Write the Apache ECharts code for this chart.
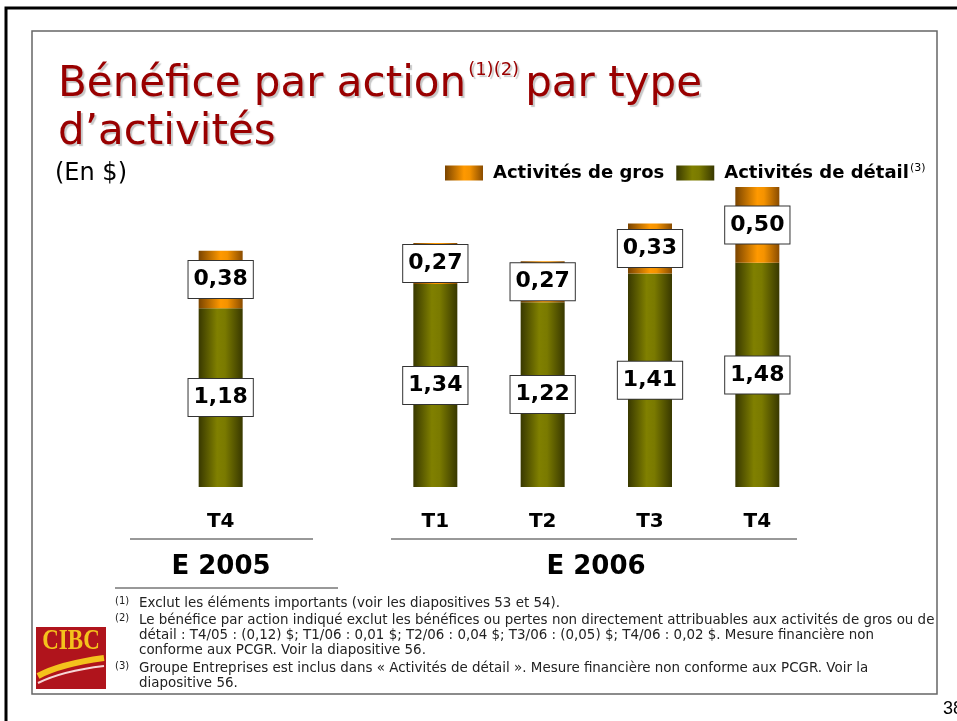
<!DOCTYPE html>
<html>
<head>
<meta charset="utf-8">
<script src="https://cdn.jsdelivr.net/npm/echarts@6/dist/echarts.min.js"></script>
<style>
html,body{margin:0;padding:0;background:#fff;}
#c{width:957px;height:721px;}
</style>
</head>
<body>
<div id="c"></div>
<script>
// ---- data ----
const categories = ['T4', '', 'T1', 'T2', 'T3', 'T4'];
const retail = [1.18, null, 1.34, 1.22, 1.41, 1.48];       // Activités de détail
const wholesale = [0.38, null, 0.27, 0.27, 0.33, 0.50];    // Activités de gros
const yearLabels = ['E 2005', 'E 2006'];
const seriesNames = ['Activités de gros', 'Activités de détail'];
const footnotes = [
  ['(1)', 'Exclut les éléments importants (voir les diapositives 53 et 54).'],
  ['(2)', 'Le bénéfice par action indiqué exclut les bénéfices ou pertes non directement attribuables aux activités de gros ou de'],
  ['', 'détail : T4/05 : (0,12) $; T1/06 : 0,01 $; T2/06 : 0,04 $; T3/06 : (0,05) $; T4/06 : 0,02 $. Mesure financière non'],
  ['', 'conforme aux PCGR. Voir la diapositive 56.'],
  ['(3)', 'Groupe Entreprises est inclus dans « Activités de détail ». Mesure financière non conforme aux PCGR. Voir la'],
  ['', 'diapositive 56.']
];

const chart = echarts.init(document.getElementById('c'), null, {renderer: 'canvas'});
const ctx = document.createElement('canvas').getContext('2d');
function tw(t, f) { ctx.font = f; return ctx.measureText(t).width; }

const greenGrad = {type: 'linear', x: 0, y: 0, x2: 1, y2: 0, colorStops: [
  {offset: 0, color: '#383800'}, {offset: 0.42, color: '#808000'}, {offset: 0.6, color: '#7a7a00'}, {offset: 1, color: '#383800'}]};
const orangeGrad = {type: 'linear', x: 0, y: 0, x2: 1, y2: 0, colorStops: [
  {offset: 0, color: '#7a4400'}, {offset: 0.5, color: '#ff9900'}, {offset: 0.65, color: '#f59300'}, {offset: 1, color: '#8a4c00'}]};

const labelCfg = {
  show: true, position: 'inside',
  formatter: p => (p.value == null ? '' : p.value.toFixed(2).replace('.', ',')),
  backgroundColor: '#fff', borderColor: '#333', borderWidth: 1,
  padding: [7, 5, 6, 5], fontSize: 22, fontWeight: 'bold', fontFamily: 'DejaVu Sans', color: '#000', lineHeight: 24
};

const gfx = [];
// outer frame
gfx.push({type: 'rect', shape: {x: 6, y: 8, width: 980, height: 760}, style: {fill: 'none', stroke: '#000', lineWidth: 3}, z: 1});
// inner frame
gfx.push({type: 'rect', shape: {x: 32, y: 31, width: 905, height: 663}, style: {fill: 'none', stroke: '#666', lineWidth: 1.5}, z: 1});

// title
const tFont = 'normal 42px "DejaVu Sans"';
const t1 = 'Bénéfice par action';
const sup = '(1)(2)';
const supFont = 'normal 18px "DejaVu Sans"';
const t1w = tw(t1, tFont);
const supw = tw(sup, supFont);
const titleColor = '#990000';
const shadow = {textShadowColor: 'rgba(0,0,0,0.22)', textShadowOffsetX: 2, textShadowOffsetY: 2, textShadowBlur: 1};
gfx.push({type: 'text', x: 58, y: 85, style: Object.assign({text: t1, font: tFont, fill: titleColor, textVerticalAlign: 'middle'}, shadow), z: 5});
gfx.push({type: 'text', x: 58 + t1w + 2, y: 70, style: Object.assign({text: sup, font: supFont, fill: titleColor, textVerticalAlign: 'middle'}, shadow), z: 5});
gfx.push({type: 'text', x: 58 + t1w + supw + 8, y: 85, style: Object.assign({text: 'par type', font: tFont, fill: titleColor, textVerticalAlign: 'middle'}, shadow), z: 5});
gfx.push({type: 'text', x: 58, y: 133, style: Object.assign({text: 'd\u2019activités', font: tFont, fill: titleColor, textVerticalAlign: 'middle'}, shadow), z: 5});
gfx.push({type: 'text', x: 55, y: 174, style: {text: '(En $)', font: 'normal 24px "DejaVu Sans"', fill: '#000', textVerticalAlign: 'middle'}, z: 5});

// axis group lines and year labels
gfx.push({type: 'line', shape: {x1: 130, y1: 539, x2: 313, y2: 539}, style: {stroke: '#333', lineWidth: 1}});
gfx.push({type: 'line', shape: {x1: 391, y1: 539, x2: 797, y2: 539}, style: {stroke: '#333', lineWidth: 1}});
gfx.push({type: 'line', shape: {x1: 115, y1: 588, x2: 338, y2: 588}, style: {stroke: '#333', lineWidth: 1}});
gfx.push({type: 'text', x: 221, y: 567, style: {text: yearLabels[0], font: 'bold 26px "DejaVu Sans"', fill: '#000', textAlign: 'center', textVerticalAlign: 'middle'}});
gfx.push({type: 'text', x: 596, y: 567, style: {text: yearLabels[1], font: 'bold 26px "DejaVu Sans"', fill: '#000', textAlign: 'center', textVerticalAlign: 'middle'}});

// footnotes (font size fitted so the longest line spans the box)
const fy = [604, 621, 636, 651, 669, 684];
const fs = 13 * 796 / tw(footnotes[1][1], 'normal 13px "DejaVu Sans"');
footnotes.forEach((f, i) => {
  if (f[0]) gfx.push({type: 'text', x: 115, y: fy[i] - 3, style: {text: f[0], font: 'normal 10px "DejaVu Sans"', fill: '#222', textVerticalAlign: 'middle'}});
  gfx.push({type: 'text', x: 139, y: fy[i], style: {text: f[1], font: 'normal ' + fs.toFixed(2) + 'px "DejaVu Sans"', fill: '#222', textVerticalAlign: 'middle'}});
});

// CIBC logo
gfx.push({type: 'rect', shape: {x: 36, y: 627, width: 70, height: 62}, style: {fill: '#b0141c'}});
gfx.push({type: 'text', x: 71, y: 641, scaleY: 1.3, style: {text: 'CIBC', font: 'bold 23px "Liberation Serif"', fill: '#f4c21c', textAlign: 'center', textVerticalAlign: 'middle'}});
gfx.push({type: 'bezierCurve', shape: {x1: 38, y1: 676, cpx1: 60, cpy1: 664, x2: 104, y2: 658}, style: {stroke: '#f4c21c', lineWidth: 6, fill: 'none'}});
gfx.push({type: 'bezierCurve', shape: {x1: 38, y1: 683, cpx1: 62, cpy1: 671, x2: 104, y2: 666}, style: {stroke: '#f6d6d6', lineWidth: 2, fill: 'none'}});

// page number
gfx.push({type: 'text', x: 943, y: 709, style: {text: '38', font: 'normal 18px "Liberation Sans"', fill: '#000', textVerticalAlign: 'middle'}});

const option = {
  backgroundColor: '#fff',
  animation: false,
  legend: {
    left: 445, top: 163, padding: 0,
    itemWidth: 38, itemHeight: 15, itemGap: 12,
    icon: 'rect',
    data: [seriesNames[0], seriesNames[1]],
    formatter: n => n === seriesNames[1] ? '{n|' + n + '}{s|(3)}' : '{n|' + n + '}',
    textStyle: {
      rich: {
        n: {fontSize: 18, fontWeight: 'bold', fontFamily: 'DejaVu Sans', color: '#000', lineHeight: 20, padding: [0, 0, 0, 5]},
        s: {fontSize: 11, fontFamily: 'DejaVu Sans', color: '#000', lineHeight: 20, verticalAlign: 'top', padding: [0, 0, 12, 1]}
      }
    }
  },
  grid: {left: 167, width: 644, top: 184, height: 303, containLabel: false},
  xAxis: {
    type: 'category', data: categories,
    axisLine: {show: false}, axisTick: {show: false},
    axisLabel: {margin: 25, fontSize: 20, fontWeight: 'bold', fontFamily: 'DejaVu Sans', color: '#000'}
  },
  yAxis: {type: 'value', min: 0, max: 2, show: false, splitLine: {show: false}},
  series: [
    {name: seriesNames[1], type: 'bar', stack: 'eps', data: retail, barWidth: 44, itemStyle: {color: greenGrad}, label: labelCfg, z: 2},
    {name: seriesNames[0], type: 'bar', stack: 'eps', data: wholesale, barWidth: 44, itemStyle: {color: orangeGrad}, label: labelCfg, z: 2}
  ],
  graphic: gfx
};
chart.setOption(option);
</script>
</body>
</html>
